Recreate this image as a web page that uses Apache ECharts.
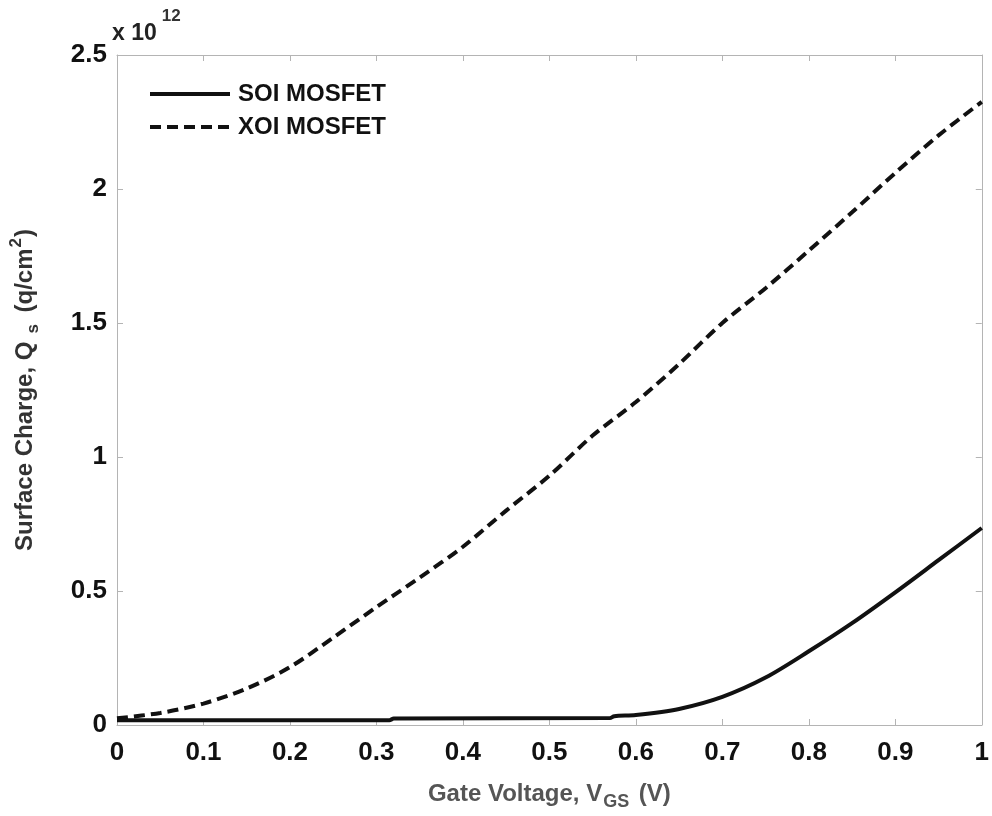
<!DOCTYPE html>
<html>
<head>
<meta charset="utf-8">
<title>Surface Charge vs Gate Voltage</title>
<script src="https://cdn.jsdelivr.net/npm/echarts@6/dist/echarts.min.js"></script>
<style>
  html, body { margin: 0; padding: 0; background: #ffffff; }
  #chart { width: 992px; height: 816px; }
</style>
</head>
<body>
<div id="chart"></div>
<script>
// Surface charge Qs (in units of 1e12 q/cm^2) versus gate voltage VGS (V)
const soiVgs = [0, 0.315, 0.32, 0.57, 0.575, 0.6, 0.65, 0.7, 0.75, 0.8, 0.85, 0.9, 0.95, 1.0];
const soiQs  = [0.018, 0.018, 0.024, 0.026, 0.033, 0.037, 0.06, 0.105, 0.177, 0.275, 0.38, 0.495, 0.615, 0.735];

const xoiVgs = [0, 0.05, 0.1, 0.15, 0.2, 0.25, 0.3, 0.35, 0.4, 0.45, 0.5, 0.55, 0.6, 0.65, 0.7, 0.75, 0.8, 0.85, 0.9, 0.95, 1.0];
const xoiQs  = [0.025, 0.045, 0.08, 0.136, 0.216, 0.326, 0.44, 0.55, 0.665, 0.80, 0.93, 1.08, 1.205, 1.347, 1.50, 1.63, 1.77, 1.913, 2.06, 2.20, 2.325];

const seriesNames = ['SOI MOSFET', 'XOI MOSFET'];
const xTickStep = 0.1;
const yTickStep = 0.5;

const FONT = '"Liberation Sans", Arial, sans-serif';
const FRAME = '#b4b4b4';

const pairs = (xs, ys) => xs.map((x, i) => [x, ys[i]]);

const chart = echarts.init(document.getElementById('chart'), null, { renderer: 'canvas' });

const tickLabel = { color: '#111', fontFamily: FONT, fontWeight: 'bold', fontSize: 26 };
const frameAxis = () => ({
  axisLine: { show: true, onZero: false, lineStyle: { color: FRAME, width: 1 } },
  axisTick: { show: true, inside: true, length: 6, lineStyle: { color: FRAME, width: 1 } },
  splitLine: { show: false }
});

chart.setOption({
  animation: false,
  backgroundColor: '#ffffff',
  grid: { left: 117, right: 9, top: 55, bottom: 79, containLabel: false },
  legend: {
    orient: 'vertical',
    left: 143,
    top: 77,
    itemWidth: 80,
    itemHeight: 26,
    itemGap: 9,
    data: seriesNames,
    itemStyle: { opacity: 0 },
    lineStyle: { width: 4 },
    textStyle: { color: '#111', fontFamily: FONT, fontWeight: 'bold', fontSize: 24, padding: [0, 0, 0, 3] }
  },
  xAxis: [
    Object.assign({
      type: 'value', min: 0, max: 1, interval: xTickStep, position: 'bottom',
      axisLabel: Object.assign({ margin: 15, formatter: v => String(+v.toFixed(1)) }, tickLabel),
      name: '{t|Gate Voltage, V}{sub|GS}{t| (V)}',
      nameLocation: 'middle',
      nameGap: 52,
      nameTextStyle: {
        rich: {
          t: { fontFamily: FONT, fontWeight: 'bold', fontSize: 24, color: '#555', lineHeight: 34, verticalAlign: 'middle' },
          sub: { fontFamily: FONT, fontWeight: 'bold', fontSize: 18, color: '#555', lineHeight: 18, verticalAlign: 'bottom', padding: [0, 3, 0, 1] }
        }
      }
    }, frameAxis()),
    Object.assign({
      type: 'value', min: 0, max: 1, interval: xTickStep, position: 'top',
      axisLabel: { show: false }
    }, frameAxis())
  ],
  yAxis: [
    Object.assign({
      type: 'value', min: 0, max: 2.5, interval: yTickStep, position: 'left',
      axisLabel: Object.assign({ margin: 10, formatter: v => String(+v.toFixed(1)) }, tickLabel),
      name: '{t|Surface Charge, Q}{sub|s}{t| (q/cm}{sup|2}{t|)}',
      nameLocation: 'middle',
      nameGap: 75,
      nameRotate: 90,
      nameTextStyle: {
        rich: {
          t: { fontFamily: FONT, fontWeight: 'bold', fontSize: 24, color: '#333', lineHeight: 34, verticalAlign: 'middle' },
          sub: { fontFamily: FONT, fontWeight: 'bold', fontSize: 17, color: '#333', lineHeight: 17, verticalAlign: 'bottom', padding: [0, 5, 0, 8] },
          sup: { fontFamily: FONT, fontWeight: 'bold', fontSize: 17, color: '#333', lineHeight: 17, verticalAlign: 'top', padding: [0, 1, 0, 1] }
        }
      }
    }, frameAxis()),
    Object.assign({
      type: 'value', min: 0, max: 2.5, interval: yTickStep, position: 'right',
      axisLabel: { show: false }
    }, frameAxis())
  ],
  graphic: [{
    type: 'text',
    left: 112,
    top: 8,
    style: {
      text: '{t|x 10}{sup|12}',
      rich: {
        t: { fontFamily: FONT, fontWeight: 'bold', fontSize: 23, fill: '#222', lineHeight: 37, verticalAlign: 'bottom' },
        sup: { fontFamily: FONT, fontWeight: 'bold', fontSize: 17, fill: '#333', lineHeight: 17, verticalAlign: 'top', padding: [0, 0, 0, 5] }
      }
    }
  }],
  series: [
    {
      name: seriesNames[0],
      type: 'line',
      data: pairs(soiVgs, soiQs),
      showSymbol: false,
      symbol: 'none',
      smooth: 0.3,
      lineStyle: { color: '#111', width: 4, type: 'solid' },
      itemStyle: { color: '#111' },
      z: 3
    },
    {
      name: seriesNames[1],
      type: 'line',
      data: pairs(xoiVgs, xoiQs),
      showSymbol: false,
      symbol: 'none',
      smooth: 0.3,
      lineStyle: { color: '#111', width: 4, type: [11, 6] },
      itemStyle: { color: '#111' },
      z: 2
    }
  ]
});
</script>
</body>
</html>
